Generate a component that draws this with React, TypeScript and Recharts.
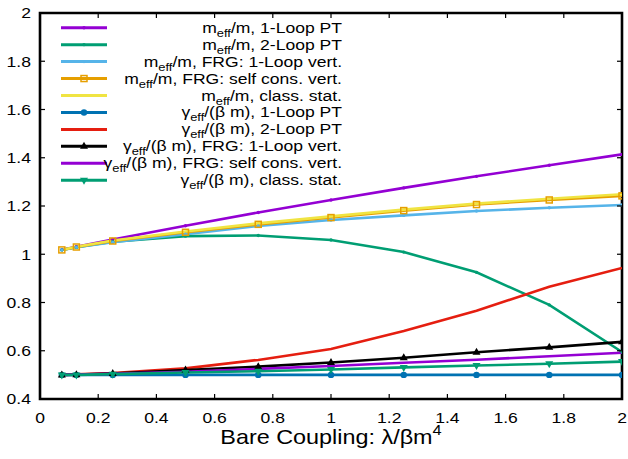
import React from "react";
import { LineChart, Line, XAxis, YAxis, ReferenceArea, Customized } from "recharts";

// bare coupling values where the curves were evaluated
const xValues = [0.075, 0.125, 0.25, 0.5, 0.75, 1, 1.25, 1.5, 1.75, 2];

// m_eff / m
const mOneLoop = [1.019, 1.031, 1.061, 1.118, 1.173, 1.225, 1.275, 1.323, 1.369, 1.414];
const mTwoLoop = [1.018, 1.029, 1.052, 1.075, 1.078, 1.059, 1.009, 0.925, 0.79, 0.595];
const mFrgOneLoop = [1.018, 1.029, 1.05, 1.083, 1.117, 1.142, 1.161, 1.179, 1.193, 1.204];
const mFrgSelfCons = [1.018, 1.03, 1.055, 1.091, 1.124, 1.152, 1.181, 1.206, 1.225, 1.242];
const mClassStat = [1.018, 1.031, 1.057, 1.094, 1.128, 1.157, 1.185, 1.21, 1.23, 1.249];

// gamma_eff / (beta m)
const gOneLoop = [0.5, 0.5, 0.5, 0.5, 0.5, 0.5, 0.5, 0.5, 0.5, 0.5];
const gTwoLoop = [0.5, 0.502, 0.508, 0.527, 0.562, 0.607, 0.682, 0.766, 0.865, 0.943];
const gFrgOneLoop = [0.5, 0.501, 0.506, 0.52, 0.534, 0.551, 0.571, 0.594, 0.614, 0.637];
const gFrgSelfCons = [0.5, 0.501, 0.504, 0.513, 0.525, 0.537, 0.55, 0.563, 0.577, 0.592];
const gClassStat = [0.5, 0.5, 0.503, 0.51, 0.515, 0.522, 0.531, 0.539, 0.546, 0.555];

const xTicks = [0, 0.2, 0.4, 0.6, 0.8, 1, 1.2, 1.4, 1.6, 1.8, 2];
const yTicks = [0.4, 0.6, 0.8, 1, 1.2, 1.4, 1.6, 1.8, 2];

const W = 628;
const H = 459;
const MARGIN = { top: 13, right: 6, left: 0, bottom: 0 };
const Y_AXIS_W = 40;
const X_AXIS_H = 60;
const PLOT = {
  left: MARGIN.left + Y_AXIS_W,
  top: MARGIN.top,
  right: W - MARGIN.right,
  bottom: H - MARGIN.bottom - X_AXIS_H,
};

const FONT = "'Liberation Sans', Arial, Helvetica, sans-serif";
const STRETCH = 1.17; // the reference text is a bit wide
const TICK = 5; // gnuplot style inward ticks, mirrored on top / right

type Marker = "dot" | "square" | "circle" | "up" | "down" | "none";

const series: {
  key: string;
  values: number[];
  color: string;
  marker: Marker;
  sym: string;
  rest: string;
}[] = [
  { key: "mOneLoop", values: mOneLoop, color: "#9400d3", marker: "dot", sym: "m", rest: "/m, 1-Loop PT" },
  { key: "mTwoLoop", values: mTwoLoop, color: "#009e73", marker: "dot", sym: "m", rest: "/m, 2-Loop PT" },
  { key: "mFrgOneLoop", values: mFrgOneLoop, color: "#56b4e9", marker: "dot", sym: "m", rest: "/m, FRG: 1-Loop vert." },
  { key: "mFrgSelfCons", values: mFrgSelfCons, color: "#e69f00", marker: "square", sym: "m", rest: "/m, FRG: self cons. vert." },
  { key: "mClassStat", values: mClassStat, color: "#f0e442", marker: "none", sym: "m", rest: "/m, class. stat." },
  { key: "gOneLoop", values: gOneLoop, color: "#0072b2", marker: "circle", sym: "γ", rest: "/(β m), 1-Loop PT" },
  { key: "gTwoLoop", values: gTwoLoop, color: "#e51e10", marker: "none", sym: "γ", rest: "/(β m), 2-Loop PT" },
  { key: "gFrgOneLoop", values: gFrgOneLoop, color: "#000000", marker: "up", sym: "γ", rest: "/(β m), FRG: 1-Loop vert." },
  { key: "gFrgSelfCons", values: gFrgSelfCons, color: "#9400d3", marker: "none", sym: "γ", rest: "/(β m), FRG: self cons. vert." },
  { key: "gClassStat", values: gClassStat, color: "#009e73", marker: "down", sym: "γ", rest: "/(β m), class. stat." },
];

const data = xValues.map((x, i) => {
  const row: Record<string, number> = { x };
  series.forEach((s) => {
    row[s.key] = s.values[i];
  });
  return row;
});

function drawMarker(m: Marker, cx: number, cy: number, color: string, key: number | string) {
  switch (m) {
    case "dot":
      return <circle key={key} cx={cx} cy={cy} r={1.7} fill={color} />;
    case "square":
      return (
        <rect key={key} x={cx - 3} y={cy - 3} width={6} height={6} fill="none" stroke={color} strokeWidth={1.5} />
      );
    case "circle":
      return <circle key={key} cx={cx} cy={cy} r={3.2} fill={color} />;
    case "up":
      return <polygon key={key} points={`${cx},${cy - 4.5} ${cx - 4},${cy + 2.5} ${cx + 4},${cy + 2.5}`} fill={color} />;
    case "down":
      return <polygon key={key} points={`${cx},${cy + 4.5} ${cx - 4},${cy - 2.5} ${cx + 4},${cy - 2.5}`} fill={color} />;
    default:
      return <g key={key} />;
  }
}

// tick components draw the label plus inward tick marks on both opposite sides
const BottomTick = (p: any) => {
  const v = p.payload.value;
  const inner = v !== 0 && v !== 2;
  return (
    <g>
      {inner && <line x1={p.x} x2={p.x} y1={PLOT.bottom} y2={PLOT.bottom - TICK} stroke="#000" strokeWidth={1.2} />}
      {inner && <line x1={p.x} x2={p.x} y1={PLOT.top} y2={PLOT.top + TICK} stroke="#000" strokeWidth={1.2} />}
      <text
        transform={`translate(${p.x},${PLOT.bottom + 23.5}) scale(${STRETCH},1)`}
        textAnchor="middle"
        fontSize={15}
        fontFamily={FONT}
        fill="#000"
      >
        {v}
      </text>
    </g>
  );
};

const LeftTick = (p: any) => {
  const v = p.payload.value;
  const inner = v !== 0.4 && v !== 2;
  return (
    <g>
      {inner && <line x1={PLOT.left} x2={PLOT.left + TICK} y1={p.y} y2={p.y} stroke="#000" strokeWidth={1.2} />}
      {inner && <line x1={PLOT.right} x2={PLOT.right - TICK} y1={p.y} y2={p.y} stroke="#000" strokeWidth={1.2} />}
      <text
        transform={`translate(${PLOT.left - 9},${p.y + 5.3}) scale(${STRETCH},1)`}
        textAnchor="end"
        fontSize={15}
        fontFamily={FONT}
        fill="#000"
      >
        {v}
      </text>
    </g>
  );
};

function Overlay() {
  return (
    <g>
      {/* gnuplot border */}
      <path
        d={`M${PLOT.left},${PLOT.top}H${PLOT.right}V${PLOT.bottom}H${PLOT.left}Z`}
        fill="none"
        stroke="#000"
        strokeWidth={2.6}
      />
      {series.map((s, i) => {
        const cy = 27.7 + 16.95 * i;
        return (
          <g key={s.key}>
            <line x1={61} x2={107} y1={cy} y2={cy} stroke={s.color} strokeWidth={3} />
            {drawMarker(s.marker, 84, cy, s.color, "m" + i)}
            <text
              transform={`translate(342,${cy + 5}) scale(${STRETCH},1)`}
              textAnchor="end"
              fontSize={15}
              fontFamily={FONT}
              fill="#000"
            >
              {s.sym}
              <tspan fontSize={11} dy={4}>
                eff
              </tspan>
              <tspan dy={-4}>{s.rest}</tspan>
            </text>
          </g>
        );
      })}
      <text
        transform={`translate(331,444) scale(${STRETCH},1)`}
        textAnchor="middle"
        fontSize={20}
        fontFamily={FONT}
        fill="#000"
      >
        Bare Coupling: λ/βm
        <tspan fontSize={14} dy={-9}>
          4
        </tspan>
      </text>
    </g>
  );
}

export default function App() {
  return (
    <div style={{ position: "absolute", left: 0, top: 0, background: "#fff" }}>
      <LineChart width={W} height={H} data={data} margin={MARGIN}>
        <XAxis
          type="number"
          dataKey="x"
          domain={[0, 2]}
          ticks={xTicks}
          allowDataOverflow
          height={X_AXIS_H}
          axisLine={false}
          tickLine={false}
          tick={<BottomTick />}
          interval={0}
        />
        <YAxis
          type="number"
          domain={[0.4, 2]}
          ticks={yTicks}
          allowDataOverflow
          width={Y_AXIS_W}
          axisLine={false}
          tickLine={false}
          tick={<LeftTick />}
          interval={0}
        />
        <ReferenceArea x1={0} x2={2} y1={0.4} y2={2} fill="none" stroke="#000" strokeWidth={2} ifOverflow="visible" />
        {series.map((s) => (
          <Line
            key={s.key}
            dataKey={s.key}
            stroke={s.color}
            strokeWidth={2.6}
            isAnimationActive={false}
            dot={
              s.marker === "none"
                ? false
                : (p: any) => drawMarker(s.marker, p.cx, p.cy, s.color, p.index)
            }
            activeDot={false}
          />
        ))}
        <Customized component={Overlay} />
      </LineChart>
    </div>
  );
}
